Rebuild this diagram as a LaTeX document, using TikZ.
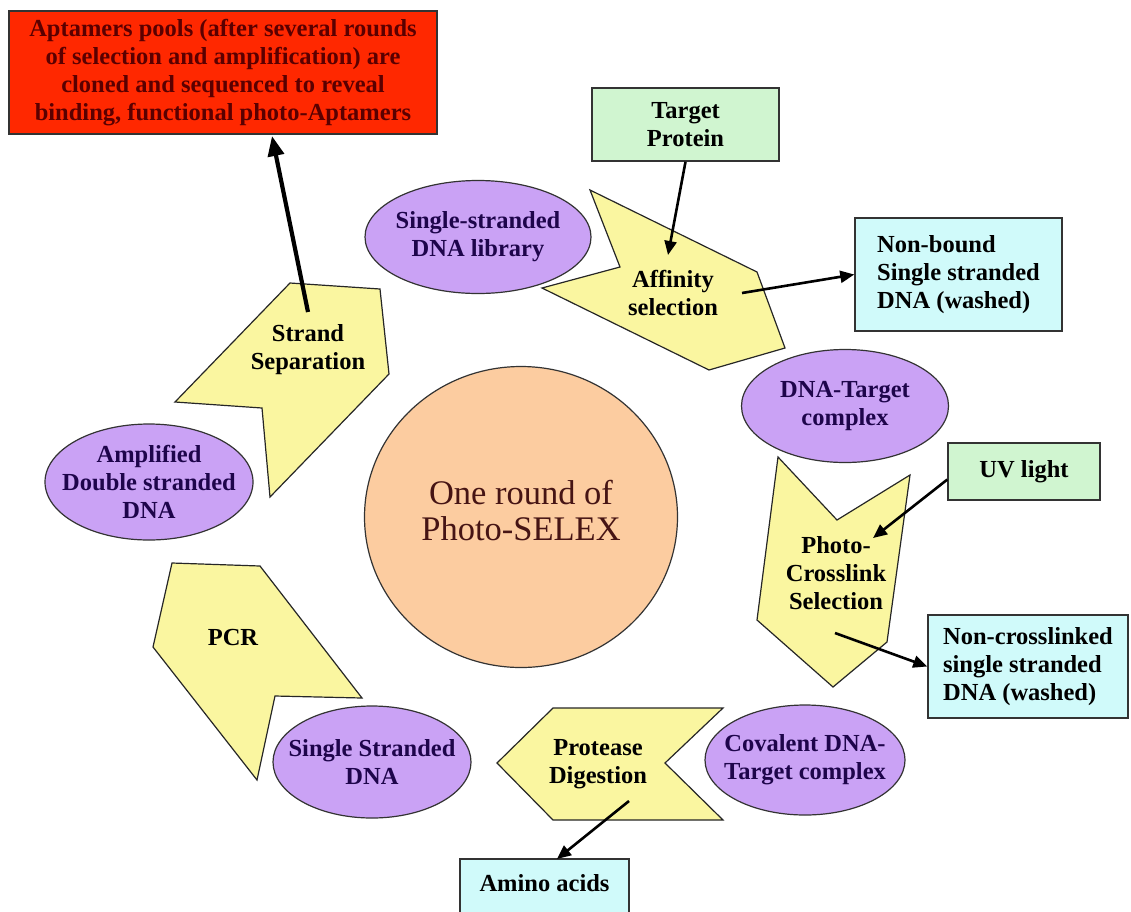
\documentclass[tikz,border=0pt]{standalone}
\usepackage{fontspec}
\setmainfont{Liberation Serif}
\usetikzlibrary{shapes.geometric,arrows.meta,calc}
\definecolor{chev}{RGB}{250,246,160}
\definecolor{lav}{RGB}{202,162,245}
\definecolor{lavtxt}{RGB}{30,5,75}
\definecolor{redbox}{RGB}{255,40,0}
\definecolor{redtxt}{RGB}{90,0,0}
\definecolor{grn}{RGB}{208,245,208}
\definecolor{cyn}{RGB}{208,250,250}
\definecolor{peach}{RGB}{252,204,160}
\definecolor{peachtxt}{RGB}{70,20,20}
\begin{document}
\begin{tikzpicture}[x=1pt,y=-1pt,
  lbl/.style={font=\bfseries\fontsize{24.5}{28}\selectfont, align=center, inner sep=0pt},
  ell/.style={ellipse, draw=black!80, line width=1.2pt, fill=lav, inner sep=0pt},
  elltxt/.style={lbl, text=lavtxt},
  chevshape/.style={draw=black!85, line width=1.2pt, fill=chev},
  box/.style={rectangle, draw=black!80, line width=1.5pt, lbl},
  arr/.style={-{Triangle[length=14pt,width=12pt]}, line width=2.6pt, black},
  bigarr/.style={-{Triangle[length=20pt,width=16pt]}, line width=4.2pt, black}
]
\useasboundingbox (0,0) rectangle (1131,911);

% centre circle
\node[ellipse, draw=black!80, line width=1.2pt, fill=peach,
      minimum width=313pt, minimum height=301pt, inner sep=0pt] (mid) at (521,517) {};
\node[text=peachtxt, inner sep=0pt, align=center,
      font=\fontsize{34.5}{36}\selectfont] (midt) at (521,511) {One round of\\Photo-SELEX};

% ellipses
\node[ell, minimum width=226pt, minimum height=113pt] (lib) at (478,237) {};
\node[ell, minimum width=207pt, minimum height=113pt] (dtc) at (845,406) {};
\node[ell, minimum width=200pt, minimum height=110pt] (cov) at (805,760) {};
\node[ell, minimum width=198pt, minimum height=112pt] (ssd) at (372,762) {};
\node[ell, minimum width=208pt, minimum height=116pt] (amp) at (149,482) {};
\node[elltxt] (libt) at (lib) {Single-stranded\\DNA library};
\node[elltxt] (dtct) at (dtc) {DNA-Target\\complex};
\node[elltxt] (covt) at (cov) {Covalent DNA-\\Target complex};
\node[elltxt] (ssdt) at (ssd) {Single Stranded\\DNA};
\node[elltxt] (ampt) at (amp) {Amplified\\Double stranded\\DNA};

% chevrons
\draw[chevshape] (590,190) -- (757,272) -- (785,348) -- (709,370) -- (542,288) -- (620,267) -- cycle;
\draw[chevshape] (778,457) -- (837,520) -- (910,475) -- (887,642) -- (833,687) -- (757,620) -- cycle;
\draw[chevshape] (553,708) -- (723,708) -- (665,763) -- (723,820) -- (553,820) -- (497,763) -- cycle;
\draw[chevshape] (172,563) -- (260,566) -- (362,698) -- (275,696) -- (257,780) -- (153,647) -- cycle;
\draw[chevshape] (290,283) -- (380,289) -- (389,374) -- (270,497) -- (262,408) -- (175,402) -- cycle;

\node[lbl] (aff) at (673,293) {Affinity\\selection};
\node[lbl] (pho) at (836,573) {Photo-\\Crosslink\\Selection};
\node[lbl] (pro) at (598,764) {Protease\\Digestion};
\node[lbl] (pcr) at (233,637) {PCR};
\node[lbl] (str) at (308,350) {Strand\\Separation};

% boxes
\node[box, fill=redbox, text=redtxt, minimum width=428pt, minimum height=123pt] (rb) at (223,72.5)
  {Aptamers pools (after several rounds\\of selection and amplification) are\\cloned and sequenced to reveal\\binding, functional photo-Aptamers};
\node[box, fill=grn, minimum width=187pt, minimum height=73pt] (tp) at (685.5,124.5) {Target\\Protein};
\node[box, fill=cyn, minimum width=207pt, minimum height=113pt, align=left] (nb) at (958.5,274.5)
  {Non-bound\\Single stranded\\DNA (washed)};
\node[box, fill=grn, minimum width=152pt, minimum height=57pt] (uv) at (1024,471.5) {UV light};
\node[box, fill=cyn, minimum width=200pt, minimum height=103pt, align=left] (nc) at (1028,666.5)
  {Non-crosslinked\\single stranded\\DNA (washed)};
\node[box, fill=cyn, minimum width=169pt, minimum height=56pt] (aa) at (544.5,887) {};
\node[lbl] (aat) at (544.5,883) {Amino acids};

% connector end points
\coordinate (affin) at (668,255);
\coordinate (affout) at (742,293);
\coordinate (phin) at (873,538);
\coordinate (phout) at (835,633);
\coordinate (proout) at (629,801);
\coordinate (aain) at (557,859);
\coordinate (strout) at (308,312);
\coordinate (rbin) at (272,136);

% connectors
\draw[arr] (tp.south) -- (affin);
\draw[arr] (affout) -- (nb.west);
\draw[arr] (uv.186) -- (phin);
\draw[arr] (phout) -- (nc.west);
\draw[arr] (proout) -- (aain);
\draw[bigarr] (strout) -- (rbin);
\end{tikzpicture}
\end{document}
